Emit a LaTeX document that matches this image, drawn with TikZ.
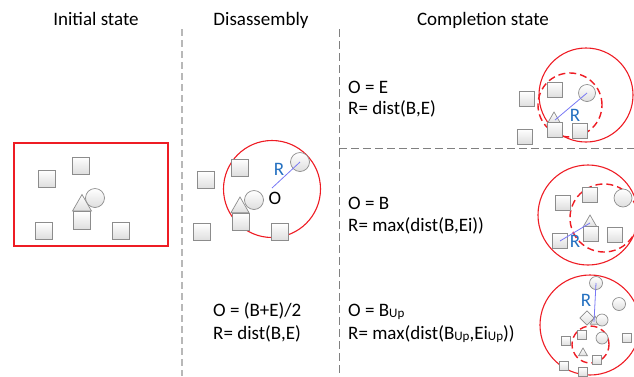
\documentclass[tikz,border=0pt]{standalone}
\usepackage{fontspec}
\setmainfont{Carlito}
\usepackage{tikz}
\usetikzlibrary{shapes.geometric}
\definecolor{hullred}{RGB}{238,28,36}
\definecolor{rtext}{RGB}{36,112,192}
\definecolor{rlinecol}{RGB}{120,120,245}
\tikzset{
    item/.style={draw=black!45, line width=0.7pt, top color=white, bottom color=black!13, inner sep=0pt, outer sep=0pt},
    tile/.style={item, rectangle, minimum size=#1},
    tile/.default=17,
    disc/.style={item, circle, minimum size=#1},
    disc/.default=19,
    wedge/.style={item, regular polygon, regular polygon sides=3, minimum size=#1, anchor=corner 1},
    wedge/.default=22,
    diam/.style={item, rectangle, rotate=45, minimum size=#1},
    hull/.style={draw=hullred, line width=1.1pt},
    hulldash/.style={draw=hullred, line width=1.4pt, dash pattern=on 7pt off 4pt},
    divider/.style={draw=black!28, line width=1.5pt, dash pattern=on 7pt off 4pt},
    split/.style={draw=black!50, line width=0.7pt, dash pattern=on 8pt off 4pt},
    rline/.style={draw=rlinecol, line width=0.8pt},
    rlabel/.style={text=rtext, inner sep=0pt},
    formula/.style={anchor=base west, inner sep=0pt},
    heading/.style={anchor=base, inner sep=0pt},
}
\newcommand{\subup}{\raisebox{-1pt}{\fontsize{13}{13}\selectfont Up}}

\begin{document}
\begin{tikzpicture}[x=1pt, y=-1pt, font=\fontsize{19}{23}\selectfont]
\useasboundingbox (0,0) rectangle (634,376);
\clip (0,0) rectangle (634,376);

% headings
\node[heading] (t1) at (96,25) {Initial state};
\node[heading] (t2) at (261,25) {Disassembly};
\node[heading] (t3) at (483,25) {Completion state};

% separators
\draw[divider] (182,29) -- (182,376);
\draw[split] (339,29) -- (339,376);
\draw[split] (339,148) -- (634,148);

% initial state
\draw[hull] (14,143) rectangle (168,246);
\node[tile] (a1) at (81,165.5) {};
\node[tile] (a2) at (47,178.5) {};
\node[disc] (a3) at (95,198) {};
\node[wedge] (a4) at (82,194.5) {};
\node[tile=17.5] (a5) at (82,220.5) {};
\node[tile=16.5] (a6) at (44,231) {};
\node[tile=16.5] (a7) at (121,231) {};

% disassembly
\draw[hull] (272,189) circle[radius=48.5pt];
\node[tile] (d1) at (240,167.5) {};
\node[tile] (d2) at (205.5,180) {};
\node[disc] (d3) at (254,200) {};
\node[disc] (d4) at (300,162) {};
\node[wedge=21] (d5) at (240,197) {};
\node[tile] (d6) at (241,222) {};
\node[tile] (d7) at (202,232) {};
\node[tile] (d8) at (280,232) {};
\coordinate (do) at (272,188);
\draw[rline] (do) -- (d4.center);
\node (dO) at (275,198) {O};
\node[rlabel] (dR) at (279,169) {R};
\node[formula] (df1) at (213,316) {O = (B+E)/2};
\node[formula] (df2) at (213,339) {R= dist(B,E)};

% completion, O = E
\node[formula] (e1) at (348,93) {O = E};
\node[formula] (e2) at (348,114) {R= dist(B,E)};
\draw[hull] (586,95) circle[radius=47pt];
\draw[hulldash] (570,105) circle[radius=32pt];
\node[disc=17] (p1) at (587,93) {};
\node[tile=15] (p2) at (526.5,99) {};
\node[tile=15] (p3) at (555,90) {};
\node[wedge=16.2] (p4) at (554,112) {};
\node[tile=15] (p5) at (555,129.5) {};
\node[tile=15] (p6) at (580,130.5) {};
\node[tile=15] (p7) at (524.5,136.5) {};
\coordinate (pb) at (555,120);
\draw[rline] (pb) -- (p1.center);
\node[rlabel] (pR) at (575,115) {R};

% completion, O = B
\node[formula] (b1) at (348,209) {O = B};
\node[formula] (b2) at (348,231) {R= max(dist(B,Ei))};
\draw[hull] (588,215) circle[radius=50pt];
\draw[hulldash] (604,218) circle[radius=34pt];
\node[disc=18] (q1) at (623,198) {};
\node[tile=15] (q2) at (562.5,202.5) {};
\node[tile=15] (q3) at (590,195) {};
\node[wedge=16.2] (q4) at (590,215) {};
\node[tile=15] (q5) at (590.5,233.5) {};
\node[tile=15] (q6) at (614.5,235) {};
\node[tile=15] (q7) at (560,240.5) {};
\coordinate (qb) at (560,241);
\coordinate (qe) at (590,223);
\draw[rline] (qb) -- (qe);
\node[rlabel] (qR) at (575,241) {R};

% completion, O = B_Up
\node[formula] (u1) at (348,316) {O = B\subup};
\node[formula] (u2) at (348,339) {R= max(dist(B\subup,Ei\subup))};
\draw[hull] (590,325) circle[radius=50pt];
\draw[hulldash] (590.5,344.5) circle[radius=18.5pt];
\node[disc=13] (r1) at (596,283) {};
\node[disc=13] (r2) at (619,304) {};
\node[wedge=11] (r3) at (595,316) {};
\node[diam=10] (r4) at (587,318) {};
\node[disc=12] (r5) at (602,320) {};
\node[tile=9] (r6) at (565.5,341) {};
\node[tile=9] (r7) at (581.5,335) {};
\node[disc=12] (r8) at (602,338) {};
\node[tile=9] (r9) at (627,337.5) {};
\node[wedge=10.4] (r10) at (583,348) {};
\node[tile=9] (r11) at (597,360) {};
\node[tile=9] (r12) at (563.5,366) {};
\node[tile=9] (r13) at (582.5,372) {};
\coordinate (ue) at (594,322);
\draw[rline] (r1.center) -- (ue);
\node[rlabel] (uR) at (586,300) {R};
\end{tikzpicture}
\end{document}
